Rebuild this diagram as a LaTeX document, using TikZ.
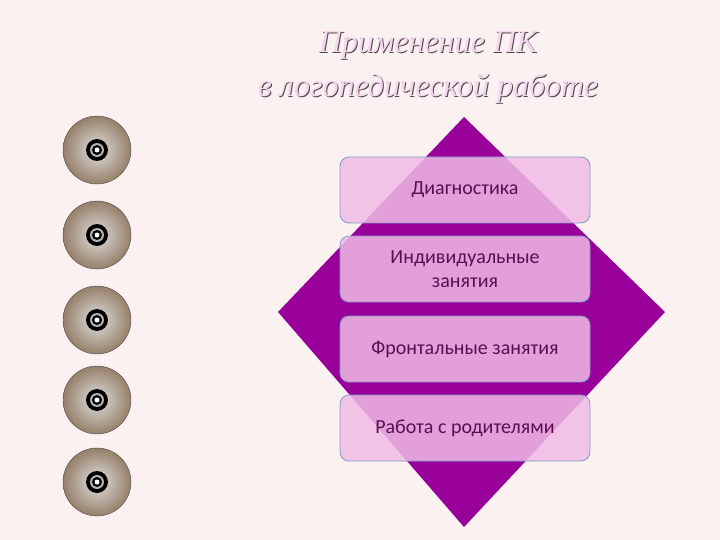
\documentclass[tikz,border=0pt]{standalone}
\usepackage{fontspec}
\setmainfont{Carlito}
\newfontfamily\titlefont{Liberation Serif}
\definecolor{bg}{HTML}{FBF1F1}
\definecolor{dia}{HTML}{990099}
\definecolor{boxfill}{HTML}{EFBCE6}
\definecolor{boxline}{HTML}{7F9CC8}
\definecolor{txt}{HTML}{5A1050}
\definecolor{ttl}{HTML}{F6D6EE}
\tikzset{
  itembox/.style={draw=boxline, line width=0.8pt, rounded corners=9pt, fill=boxfill, fill opacity=0.85, text opacity=1,
    minimum width=250pt, minimum height=66pt, align=center, text=txt, font=\fontsize{20}{24}\selectfont},
  cd/.style={circle, minimum size=68pt, inner color=gray!25!white, outer color=brown!35!gray, draw=gray!60!black, line width=0.4pt},
  titletxt/.style={font=\titlefont\itshape\fontsize{32}{36}\selectfont, text=ttl}
}
\begin{document}
\begin{tikzpicture}[x=1pt,y=-1pt]
\fill[bg] (0,0) rectangle (720,540);
\useasboundingbox (0,0) rectangle (720,540);
\node[titletxt, text=gray!60!black] (t1s) at (429,46) {Применение ПК};
\node[titletxt] (t1) at (428,45) {Применение ПК};
\node[titletxt, text=gray!60!black] (t2s) at (429,89) {в логопедической работе};
\node[titletxt] (t2) at (428,88) {в логопедической работе};
\fill[dia] (464,117) -- (665,312) -- (464,527) -- (278,312) -- cycle;
\node[itembox] (b1) at (465,190) {Диагностика};
\node[itembox] (b2) at (465,269) {Индивидуальные\\занятия};
\node[itembox] (b3) at (465,349) {Фронтальные занятия};
\node[itembox] (b4) at (465,428) {Работа с родителями};
\foreach \i/\y in {1/150,2/235,3/320,4/400,5/482}{
  \node[cd] (cd\i) at (97,\y) {};
  \fill[black] (cd\i.center) circle (11pt);
  \fill[gray!60] (cd\i.center) circle (7pt);
  \fill[black] (cd\i.center) circle (5pt);
  \fill[white] (cd\i.center) circle (2.5pt);
}
\end{tikzpicture}
\end{document}
